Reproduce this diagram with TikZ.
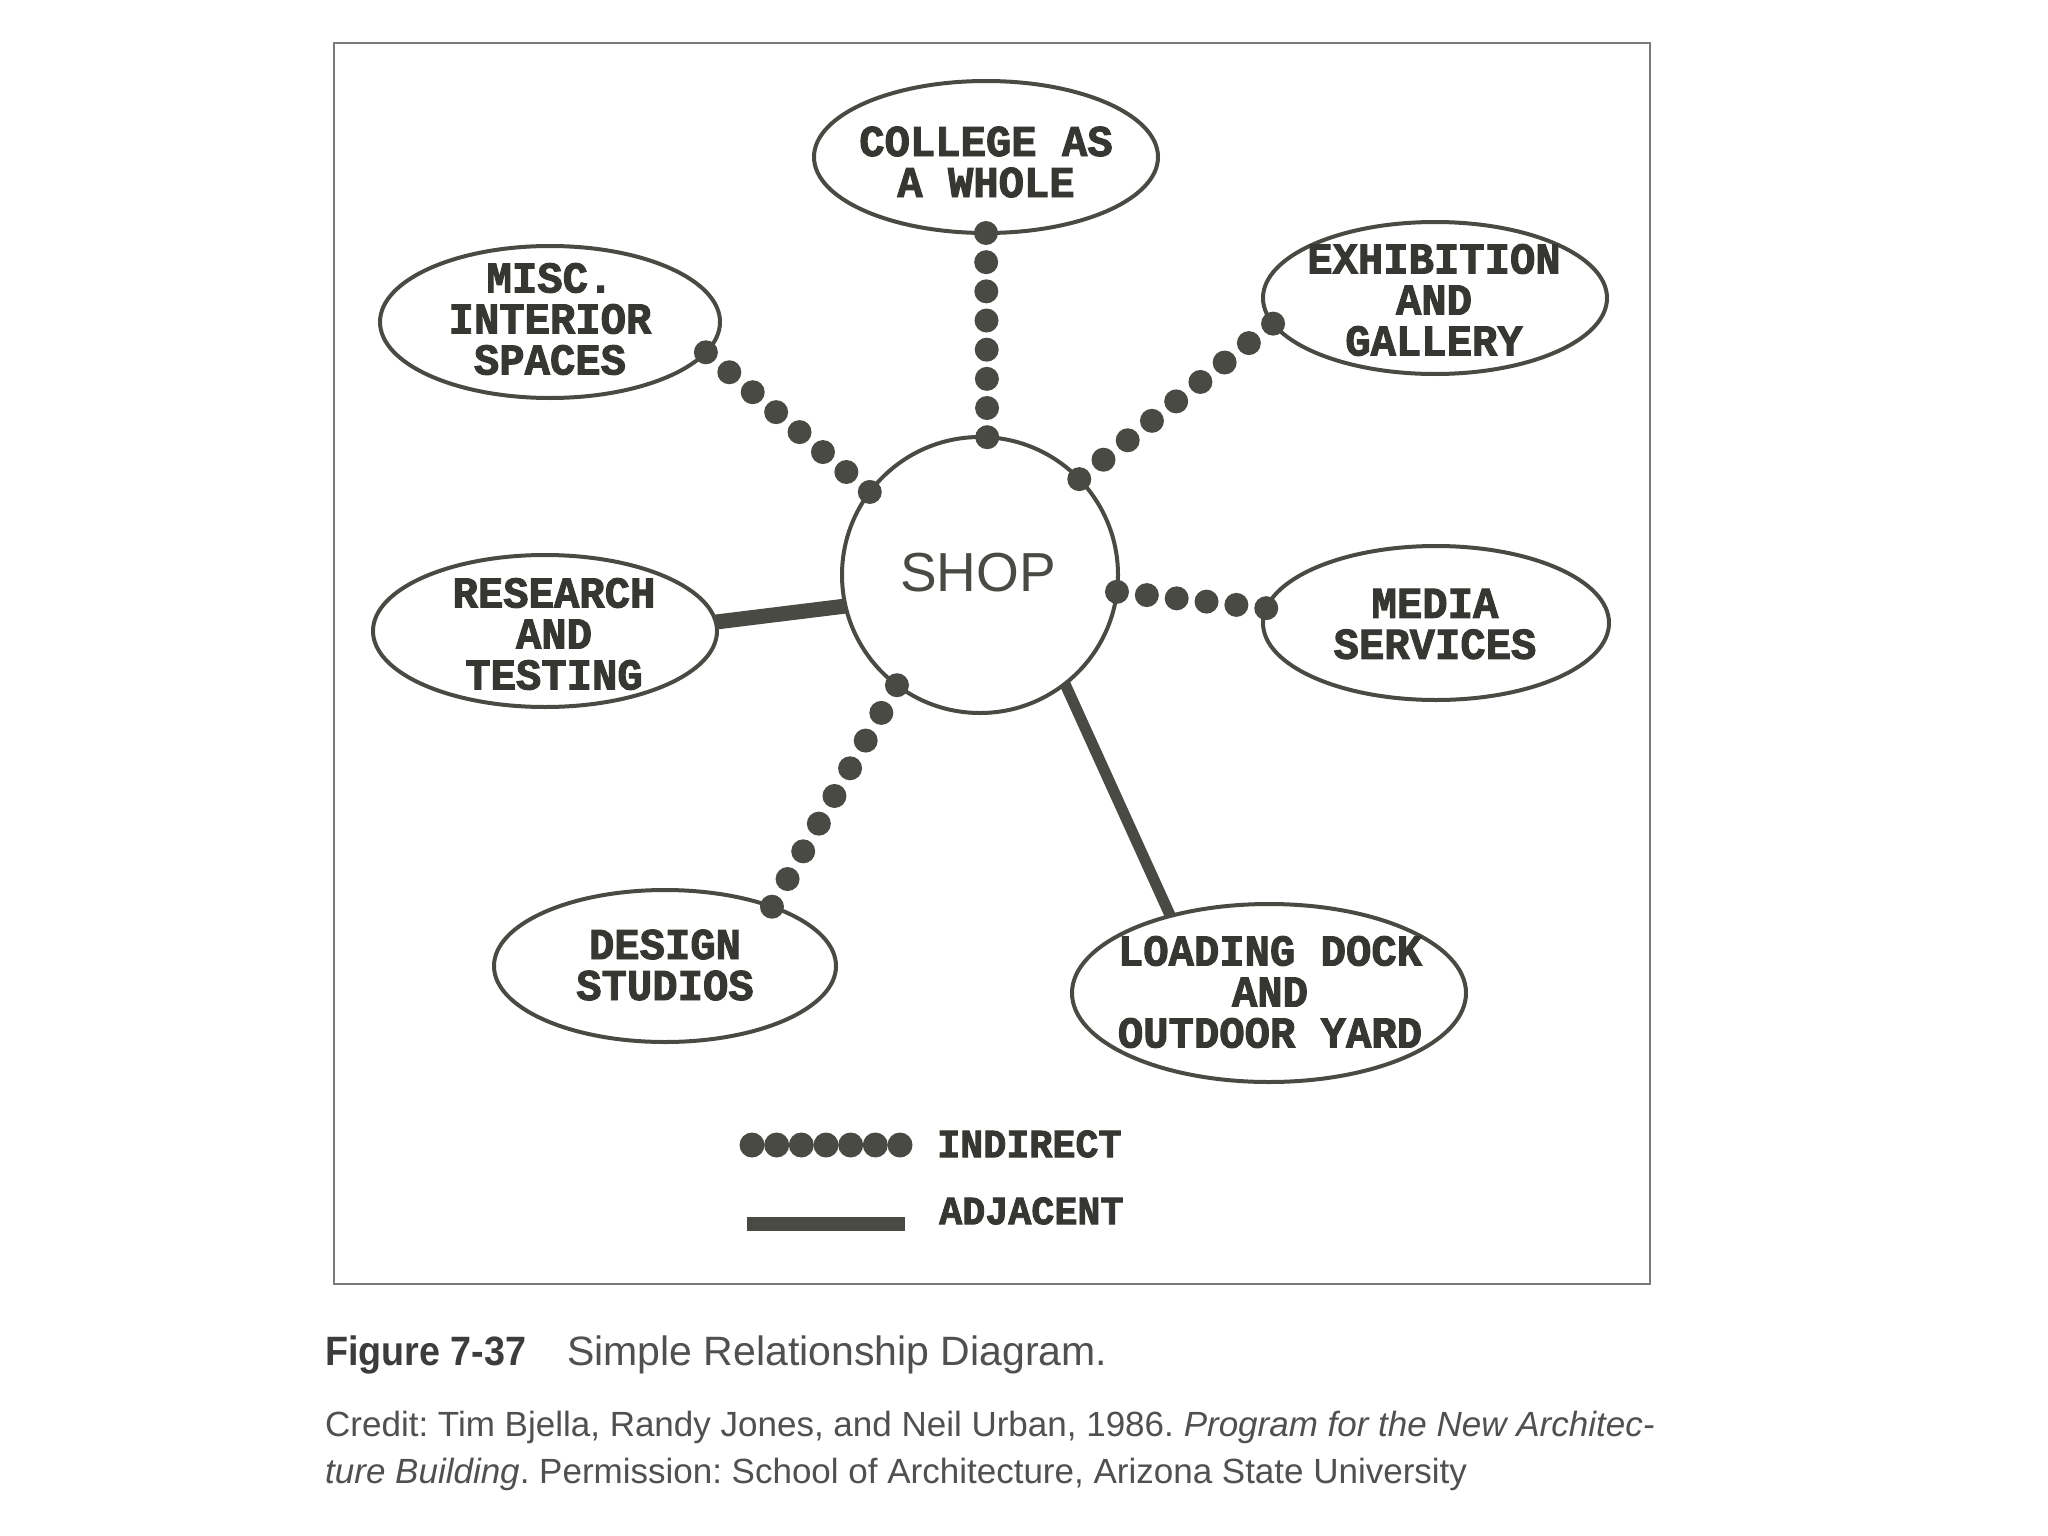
\documentclass[tikz,border=0pt]{standalone}
\usepackage{fontspec}
\usetikzlibrary{shapes.geometric,calc}
\newfontfamily\lblfont[FakeBold=2.2,FakeStretch=0.96]{Liberation Mono}
\newfontfamily\sansf{Liberation Sans}
\newfontfamily\capboldf[FakeStretch=0.92]{Liberation Sans}
\definecolor{ink}{HTML}{4A4A45}
\definecolor{txt}{HTML}{363632}
\definecolor{framec}{HTML}{7A7A78}
\definecolor{capc}{HTML}{505050}
\definecolor{capb}{HTML}{3C3C3C}
\newcommand\dotrow[4][12pt]{\foreach \k in {0,...,#4}{\fill[ink] ($(#2)!\k/#4!(#3)$) circle (#1);}}
\frenchspacing
\begin{document}
\begin{tikzpicture}[x=1pt,y=-1pt,
  room/.style={ellipse, draw=ink, line width=4pt, inner sep=0pt, outer sep=0pt},
  lbl/.style={font=\lblfont\bfseries\fontsize{44}{41}\selectfont, text=txt, align=center, inner sep=0pt},
  lgd/.style={font=\lblfont\bfseries\fontsize{40}{40}\selectfont, text=txt, inner sep=0pt, anchor=west},
  adjline/.style={draw=ink, line width=#1},
  captext/.style={inner sep=0pt, anchor=base west}]
\fill[white] (0,0) rectangle (2048,1536);
\useasboundingbox (0,0) rectangle (2048,1536);
\draw[framec, line width=2.5pt] (334,43) rectangle (1650,1284);

% rooms
\node[circle, draw=ink, line width=4pt, minimum size=276pt, inner sep=0pt, outer sep=0pt] (shop) at (980,575) {};
\node[room, minimum width=344pt, minimum height=152pt] (college) at (986,157) {};
\node[room, minimum width=340pt, minimum height=152pt] (misc) at (550,322) {};
\node[room, minimum width=344pt, minimum height=152pt] (exhib) at (1435,298) {};
\node[room, minimum width=344pt, minimum height=152pt] (research) at (545,631) {};
\node[room, minimum width=346pt, minimum height=154pt] (media) at (1436,623) {};
\node[room, minimum width=342pt, minimum height=152pt] (design) at (665,966) {};
\node[room, minimum width=394pt, minimum height=178pt] (loading) at (1269,993) {};

% labels
\node[font=\sansf\fontsize{55}{55}\selectfont, text=ink, inner sep=0pt] (shoplbl) at (978,573) {SHOP};
\node[lbl] (collegelbl) at (986,162) {COLLEGE AS\\A WHOLE};
\node[lbl] (misclbl) at (550,319) {MISC.\\INTERIOR\\SPACES};
\node[lbl] (exhiblbl) at (1434,300) {EXHIBITION\\AND\\GALLERY};
\node[lbl] (researchlbl) at (554,634) {RESEARCH\\AND\\TESTING};
\node[lbl] (medialbl) at (1435,624) {MEDIA\\SERVICES};
\node[lbl] (designlbl) at (665,965) {DESIGN\\STUDIOS};
\node[lbl] (loadinglbl) at (1270,992) {LOADING DOCK\\AND\\OUTDOOR YARD};

% indirect connectors
\dotrow{college.270}{shop.87}{7}
\dotrow{misc.-11}{shop.143.3}{7}
\dotrow{exhib.189}{shop.44.4}{8}
\dotrow{media.175.7}{shop.-7.2}{5}
\dotrow{design.29.4}{shop.233.3}{8}

% adjacent connectors
\draw[adjline=15pt] (research.3) -- (shop.193.5);
\draw[adjline=11pt] (shop.-52.6) -- (loading.142.5);

% legend
\coordinate (ia) at (752,1145);
\coordinate (ib) at (900,1145);
\dotrow[12.5pt]{ia}{ib}{6}
\node[lgd] (indirect) at (937,1144) {INDIRECT};
\coordinate (aa) at (747,1224);
\coordinate (ab) at (905,1224);
\draw[adjline=14pt] (aa) -- (ab);
\node[lgd] (adjacent) at (939,1211) {ADJACENT};

% caption
\node[captext, font=\capboldf\bfseries\fontsize{41}{41}\selectfont, text=capb] (fig) at (325,1365) {Figure 7-37};
\node[captext, font=\sansf\fontsize{41}{41}\selectfont, text=capc] (title) at (567,1365) {Simple Relationship Diagram.};
\node[captext, font=\sansf\fontsize{35}{35}\selectfont, text=capc] (credit1) at (325,1436) {Credit: Tim Bjella, Randy Jones, and Neil Urban, 1986. \textit{Program for the New Architec-}};
\node[captext, font=\sansf\fontsize{35}{35}\selectfont, text=capc] (credit2) at (325,1483) {\textit{ture Building}. Permission: School of Architecture, Arizona State University};
\end{tikzpicture}
\end{document}
